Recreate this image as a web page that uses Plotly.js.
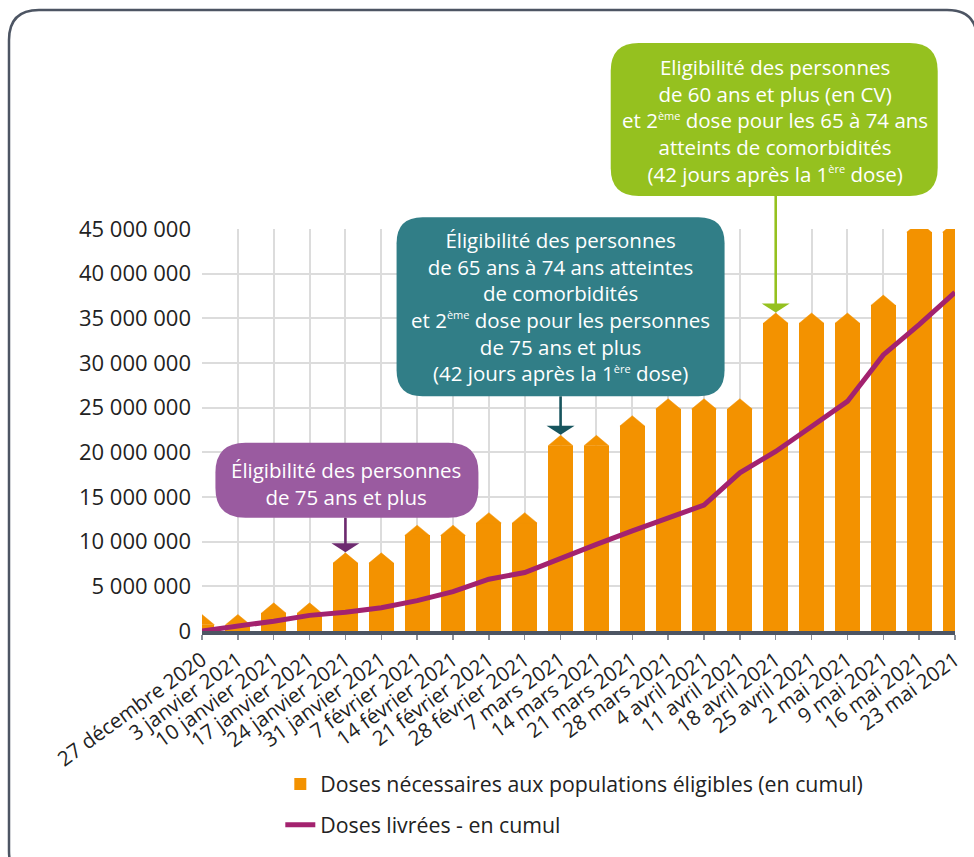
<!DOCTYPE html>
<html>
<head>
<meta charset="utf-8">
<script src="https://cdn.plot.ly/plotly-3.0.1.min.js"></script>
<style>html,body{margin:0;padding:0;background:#fff;}#chart{width:974px;height:857px;}</style>
</head>
<body>
<div id="chart"></div>
<script>
// ---- data ----
const categories = ["27 décembre 2020","3 janvier 2021","10 janvier 2021","17 janvier 2021","24 janvier 2021","31 janvier 2021","7 février 2021","14 février 2021","21 février 2021","28 février 2021","7 mars 2021","14 mars 2021","21 mars 2021","28 mars 2021","4 avril 2021","11 avril 2021","18 avril 2021","25 avril 2021","2 mai 2021","9 mai 2021","16 mai 2021","23 mai 2021"];
const dosesNecessaires = [1850000,1850000,3150000,3150000,8750000,8750000,11850000,11850000,13250000,13250000,21900000,21900000,24100000,26000000,26000000,26000000,35600000,35600000,35600000,37600000,45800000,45800000];
const dosesLivrees = [0,500000,1100000,1750000,2100000,2600000,3400000,4400000,5800000,6550000,8200000,9700000,11200000,12700000,14100000,17700000,20100000,22900000,25700000,30900000,34300000,37900000];
const seriesNames = ["Doses nécessaires aux populations éligibles (en cumul)","Doses livrées - en cumul"];
const yTicks = [0,5000000,10000000,15000000,20000000,25000000,30000000,35000000,40000000,45000000];
const SUP = (t) => "<sup><span style='font-size:11px'>" + t + "</span></sup>";
const callouts = [
  {cat:"24 janvier 2021", text:"Éligibilité des personnes<br>de 75 ans et plus"},
  {cat:"7 mars 2021", text:"Éligibilité des personnes<br>de 65 ans à 74 ans atteintes<br>de comorbidités<br>et 2" + SUP("ème") + " dose pour les personnes<br>de 75 ans et plus<br>(42 jours après la 1" + SUP("ère") + " dose)"},
  {cat:"18 avril 2021", text:"Eligibilité des personnes<br>de 60 ans et plus (en CV)<br>et 2" + SUP("ème") + " dose pour les 65 à 74 ans<br>atteints de comorbidités<br>(42 jours après la 1" + SUP("ère") + " dose)"}
];

// ---- styles ----
const ORANGE = "#f39200", PURPLE_LINE = "#a3226f";
const boxStyles = [
  {fill:"#9a5ba0", arrow:"#6d2a6f", L:-130, R:133, T:110, B:35, r:30, dx:1, dy:-3},
  {fill:"#317e87", arrow:"#17555e", L:-164, R:164, T:218, B:39, r:26, dx:0, dy:0},
  {fill:"#95c11f", arrow:"#95c11f", L:-165, R:162, T:270, B:117, r:28, dx:-1, dy:-1}
];
const BAR_W = 0.69, CAP = 1150000;
const YMAX = 45000000, XMAX = categories.length - 1;
const FONT = "Open Sans, Noto Sans, sans-serif";

const idx = categories.map((c,i)=>i);
const shoulders = dosesNecessaires.map(v=>v-CAP);

// cap polygons
const capX = [], capY = [];
idx.forEach((i)=>{
  capX.push(i-BAR_W/2, i, i+BAR_W/2, i-BAR_W/2, null);
  capY.push(shoulders[i], dosesNecessaires[i], shoulders[i], shoulders[i], null);
});

const traces = [
  {type:"bar", x:idx, y:shoulders, width:BAR_W, marker:{color:ORANGE, line:{width:0}},
   name:seriesNames[0], legendgroup:"a", hoverinfo:"skip"},
  {type:"scatter", mode:"lines", x:capX, y:capY, fill:"toself", fillcolor:ORANGE,
   line:{color:ORANGE, width:0.5}, showlegend:false, hoverinfo:"skip"},
  {type:"scatter", mode:"lines", x:idx, y:dosesLivrees, line:{color:PURPLE_LINE, width:5},
   name:seriesNames[1], legendgroup:"b"}
];

function rr(L,R,B,T,r){
  return `M ${L+r},${T} L ${R-r},${T} Q ${R},${T} ${R},${T-r} L ${R},${B+r} Q ${R},${B} ${R-r},${B} L ${L+r},${B} Q ${L},${B} ${L},${B+r} L ${L},${T-r} Q ${L},${T} ${L+r},${T} Z`;
}

const shapes = [];
const annotations = [];
// outer frame
shapes.push({type:"path", xref:"paper", yref:"paper", xsizemode:"pixel", ysizemode:"pixel", xanchor:0, yanchor:0,
  path: rr(-193, 775, -250, 621, 30), line:{color:"#4d5563", width:2.5}, fillcolor:"rgba(0,0,0,0)", layer:"below"});

callouts.forEach((c,k)=>{
  const i = categories.indexOf(c.cat);
  const v = dosesNecessaires[i];
  const s = boxStyles[k];
  const base = {xref:"paper", yref:"paper", xsizemode:"pixel", ysizemode:"pixel", xanchor:i/XMAX, yanchor:v/YMAX, layer:"above"};
  shapes.push(Object.assign({}, base, {type:"path", path: rr(s.L, s.R, s.B, s.T, s.r), fillcolor:s.fill, line:{width:0}}));
  shapes.push(Object.assign({}, base, {type:"path", path:`M -1.3,${s.B} L 1.3,${s.B} L 1.3,8 L -1.3,8 Z`, fillcolor:s.arrow, line:{width:0}}));
  shapes.push(Object.assign({}, base, {type:"path", path:`M -14,9.5 L 14,9.5 L 0,0.5 Z`, fillcolor:s.arrow, line:{width:0}}));
  annotations.push({xref:"x", yref:"y", x:i, y:v, text:c.text, showarrow:false, align:"center",
    xanchor:"center", yanchor:"middle", xshift:s.dx, yshift:(s.T+s.B)/2 + s.dy,
    font:{family:FONT, size:20.5, color:"#ffffff"}});
});

const layout = {
  width:974, height:857,
  margin:{l:202, r:19, t:229, b:223},
  paper_bgcolor:"#ffffff", plot_bgcolor:"#ffffff",
  separators:", ",
  font:{family:FONT, color:"#222222"},
  showlegend:true,
  bargap:0,
  xaxis:{type:"linear", range:[0, XMAX], tickvals:idx, ticktext:categories, tickangle:-36,
    showgrid:true, gridcolor:"#dcdcdc", gridwidth:2, zeroline:false,
    showline:true, linecolor:"#4d5563", linewidth:4,
    ticks:"outside", ticklen:5, tickwidth:1.5, tickcolor:"#8a8f98",
    tickfont:{family:FONT, size:20.5, color:"#222222"}, fixedrange:true},
  yaxis:{range:[0, YMAX], tickvals:yTicks, tickformat:",d", showgrid:true, gridcolor:"#dcdcdc", gridwidth:2,
    zeroline:false, showline:false, ticks:"", ticklabelstandoff:10,
    tickfont:{family:FONT, size:22, color:"#222222"}, fixedrange:true},
  legend:{x:0.104, xanchor:"left", y:-0.33, yanchor:"top", orientation:"v", traceorder:"grouped",
    tracegroupgap:10, bgcolor:"rgba(0,0,0,0)", font:{family:FONT, size:21.3, color:"#222222"}},
  shapes:shapes,
  annotations:annotations
};

Plotly.newPlot("chart", traces, layout, {displayModeBar:false, staticPlot:true});
</script>
</body>
</html>
